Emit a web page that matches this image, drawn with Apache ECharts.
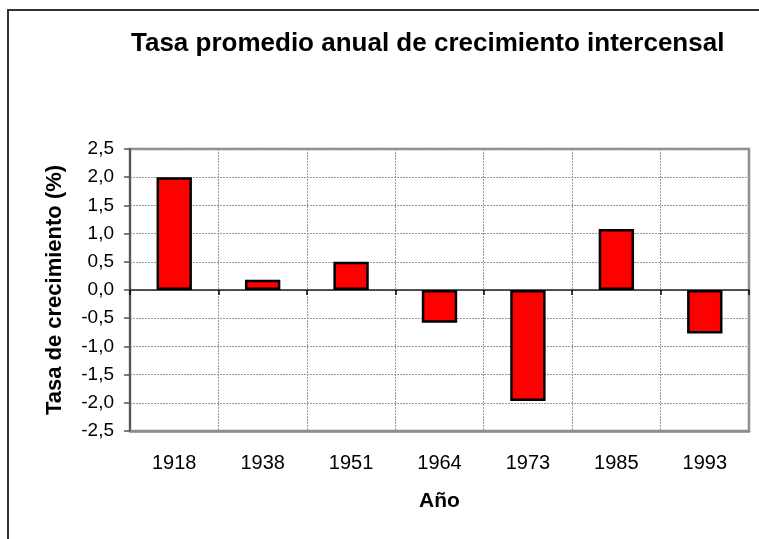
<!DOCTYPE html>
<html>
<head>
<meta charset="utf-8">
<script src="https://cdn.jsdelivr.net/npm/echarts@6/dist/echarts.min.js"></script>
<style>
  html, body { margin: 0; padding: 0; background: #fff; }
  #chart { width: 759px; height: 539px; }
</style>
</head>
<body>
<div id="chart"></div>
<script>
// datos
var years = ['1918', '1938', '1951', '1964', '1973', '1985', '1993'];
var rates = [2.0, 0.18, 0.5, -0.58, -1.97, 1.08, -0.77];
var yTicks = [-2.5, -2.0, -1.5, -1.0, -0.5, 0, 0.5, 1.0, 1.5, 2.0, 2.5];

var font = 'Liberation Sans, Arial, sans-serif';
var chart = echarts.init(document.getElementById('chart'), null, { renderer: 'canvas' });

var option = {
  backgroundColor: '#fff',
  animation: false,
  title: {
    text: 'Tasa promedio anual de crecimiento intercensal',
    left: 131,
    top: 31,
    padding: 0,
    textStyle: { fontFamily: font, fontSize: 26, fontWeight: 'bold', color: '#000' }
  },
  graphic: [{
    type: 'rect',
    shape: { x: 8, y: 10, width: 800, height: 600 },
    style: { fill: null, stroke: '#333', lineWidth: 2 },
    silent: true
  }],
  grid: {
    left: 130, top: 149, right: 10, bottom: 108,
    show: true, borderColor: '#8c8c8c', borderWidth: 2.5,
    containLabel: false
  },
  xAxis: [{
    type: 'category',
    data: years,
    position: 'bottom',
    name: 'Año',
    nameLocation: 'middle',
    nameGap: 60,
    nameTextStyle: { fontFamily: font, fontSize: 21, fontWeight: 'bold', color: '#000' },
    axisLine: { onZero: false, lineStyle: { color: '#8c8c8c', width: 2.5 } },
    axisTick: { show: false },
    axisLabel: { fontFamily: font, fontSize: 20, color: '#000', margin: 22 },
    splitLine: { show: true, lineStyle: { color: '#999', type: [2, 1], width: 1 } }
  }, {
    type: 'category',
    data: years,
    position: 'bottom',
    axisLine: { onZero: true, lineStyle: { color: '#222', width: 1.5 } },
    axisTick: { show: true, alignWithLabel: false, length: 5, lineStyle: { color: '#000', width: 1.5 } },
    axisLabel: { show: false },
    splitLine: { show: false }
  }],
  yAxis: {
    type: 'value',
    min: -2.5,
    max: 2.5,
    interval: 0.5,
    name: 'Tasa de crecimiento (%)',
    nameLocation: 'middle',
    nameGap: 64,
    nameTextStyle: { fontFamily: font, fontSize: 22, fontWeight: 'bold', color: '#000' },
    axisLine: { show: true, lineStyle: { color: '#555', width: 2 } },
    axisTick: { show: true, length: 6, lineStyle: { color: '#555', width: 1.5 } },
    axisLabel: {
      fontFamily: font, fontSize: 19, color: '#000', margin: 16,
      formatter: function (v) { return v.toFixed(1).replace('.', ','); }
    },
    splitLine: { show: true, lineStyle: { color: '#999', type: [2, 1], width: 1 } }
  },
  series: [{
    type: 'bar',
    xAxisIndex: 0,
    data: rates,
    barWidth: '40%',
    itemStyle: { color: '#ff0000', borderColor: '#000', borderWidth: 2.5 }
  }]
};
chart.setOption(option);
</script>
</body>
</html>
